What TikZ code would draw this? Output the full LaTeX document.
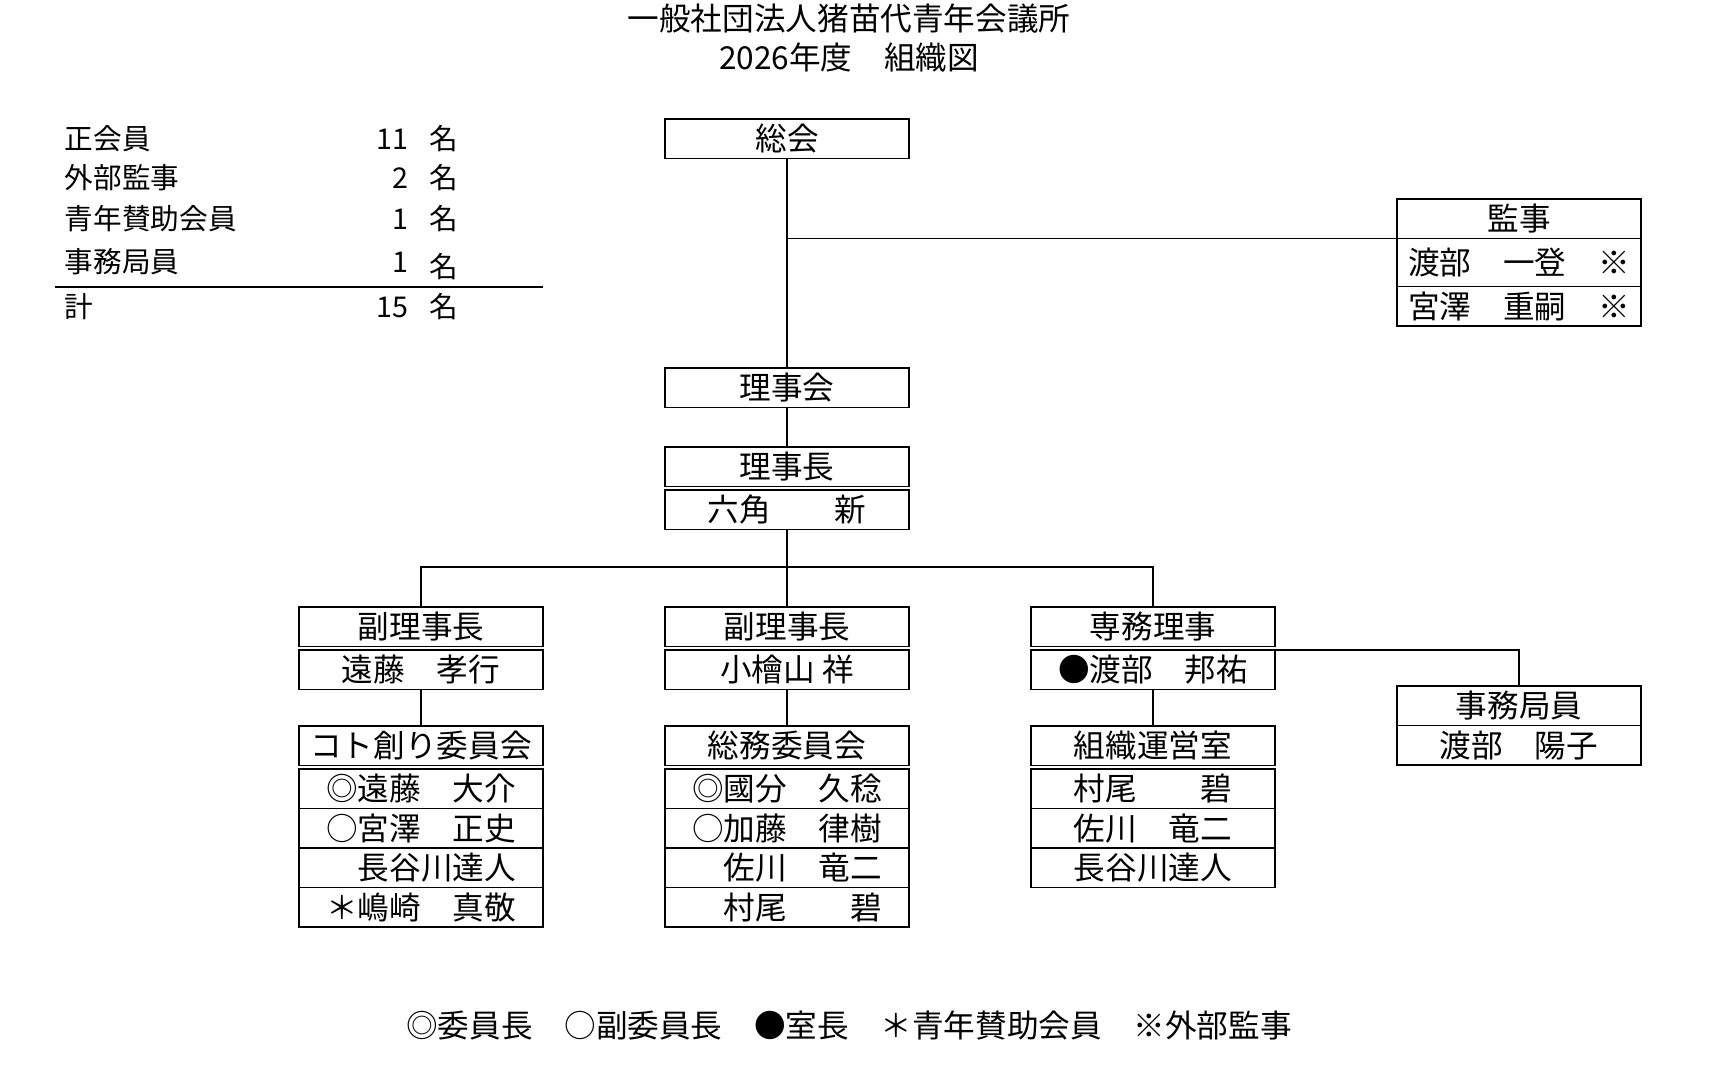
\documentclass[tikz,border=0pt]{standalone}
\usepackage{fontspec}
\setmainfont{Noto Sans CJK JP}
\usetikzlibrary{positioning}

\begin{document}
\begin{tikzpicture}[x=0.02cm,y=-0.02cm,line width=1.1pt,font=\fontsize{18}{22}\selectfont,
                box/.style={draw,anchor=north,minimum width=4.88cm,minimum height=0.79cm,inner sep=0pt,outer sep=0pt,text height=15.8pt,text depth=2.2pt},
                txt/.style={inner sep=0pt,text height=15.8pt,text depth=2.2pt},
                tbl/.style={inner sep=0pt,font=\fontsize{16.3}{20}\selectfont,text height=14.3pt,text depth=2pt}]
            \useasboundingbox (0,0) rectangle (1717,1086);
            \node[txt] (title) at (849,19) {一般社団法人猪苗代青年会議所};
            \node[txt] (subtitle) at (849,58) {2026年度　組織図};

            \node[tbl,anchor=west] (seiL) at (64,139) {正会員};
            \node[tbl,anchor=east] (seiN) at (409,139) {11};
            \node[tbl,anchor=west] (seiM) at (429,139) {名};
            \node[tbl,anchor=west] (gaiL) at (64,178) {外部監事};
            \node[tbl,anchor=east] (gaiN) at (409,178) {2};
            \node[tbl,anchor=west] (gaiM) at (429,178) {名};
            \node[tbl,anchor=west] (sanL) at (64,219) {青年賛助会員};
            \node[tbl,anchor=east] (sanN) at (409,219) {1};
            \node[tbl,anchor=west] (sanM) at (429,219) {名};
            \node[tbl,anchor=west] (jimL) at (64,262) {事務局員};
            \node[tbl,anchor=east] (jimN) at (409,262) {1};
            \node[tbl,anchor=west] (jimM) at (429,267) {名};
            \draw (55,287) -- (543,287);
            \node[tbl,anchor=west] (keiL) at (64,307) {計};
            \node[tbl,anchor=east] (keiN) at (409,307) {15};
            \node[tbl,anchor=west] (keiM) at (429,307) {名};

            \node[box] (soukai) at (787,119) {総会};
            \node[box] (kanji) at (1519,199) {監事};
            \node[box,below=0pt of kanji,minimum height=0.96cm] (kanjiA) {渡部　一登　※};
            \node[box,below=0pt of kanjiA] (kanjiB) {宮澤　重嗣　※};
            \node[box] (rijikai) at (787,368) {理事会};
            \node[box] (rijicho) at (787,447) {理事長};
            \node[box,below=0.07cm of rijicho] (rijichoN) {六角　　新};

            \node[box] (fuku1) at (421,607) {副理事長};
            \node[box,below=0.07cm of fuku1] (fuku1N) {遠藤　孝行};
            \node[box] (fuku2) at (787,607) {副理事長};
            \node[box,below=0.07cm of fuku2] (fuku2N) {小檜山 祥};
            \node[box] (senmu) at (1153,607) {専務理事};
            \node[box,below=0.07cm of senmu] (senmuN) {●渡部　邦祐};
            \node[box] (jimu) at (1519,686) {事務局員};
            \node[box,below=0pt of jimu] (jimuN) {渡部　陽子};

            \node[box] (koto) at (421,726) {コト創り委員会};
            \node[box,below=0.07cm of koto] (kotoA) {◎遠藤　大介};
            \node[box,below=0pt of kotoA] (kotoB) {○宮澤　正史};
            \node[box,below=0pt of kotoB] (kotoC) {　長谷川達人};
            \node[box,below=0pt of kotoC] (kotoD) {＊嶋崎　真敬};
            \node[box] (somu) at (787,726) {総務委員会};
            \node[box,below=0.07cm of somu] (somuA) {◎國分　久稔};
            \node[box,below=0pt of somuA] (somuB) {○加藤　律樹};
            \node[box,below=0pt of somuB] (somuC) {　佐川　竜二};
            \node[box,below=0pt of somuC] (somuD) {　村尾　　碧};
            \node[box] (soshiki) at (1153,726) {組織運営室};
            \node[box,below=0.07cm of soshiki] (soshikiA) {村尾　　碧};
            \node[box,below=0pt of soshikiA] (soshikiB) {佐川　竜二};
            \node[box,below=0pt of soshikiB] (soshikiC) {長谷川達人};

            \coordinate (bar) at (787,567);
            \draw (soukai) -- (rijikai);
            \draw (kanji.south west) -- (kanji.south west -| soukai.south);
            \draw (rijikai) -- (rijicho);
            \draw (rijichoN) -- (bar);
            \draw (fuku1) |- (bar) -| (senmu);
            \draw (bar) -- (fuku2);
            \draw (fuku1N) -- (koto);
            \draw (fuku2N) -- (somu);
            \draw (senmuN) -- (soshiki);
            \draw (senmuN.north east) -| (jimu);

            \node[txt] (legend) at (849,1026) {◎委員長　○副委員長　●室長　＊青年賛助会員　※外部監事};
        \end{tikzpicture}
\end{document}
